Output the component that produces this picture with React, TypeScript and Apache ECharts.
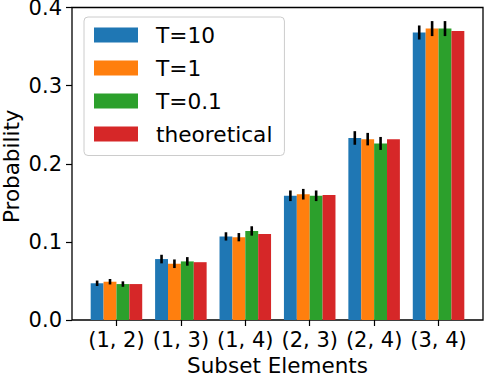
import React, { useEffect, useRef } from "react";
import * as echarts from "echarts";

const categories = ["(1, 2)", "(1, 3)", "(1, 4)", "(2, 3)", "(2, 4)", "(3, 4)"];
const seriesNames = ["T=10", "T=1", "T=0.1", "theoretical"];
const colors = ["#1f77b4", "#ff7f0e", "#2ca02c", "#d62728"];
const valuesT10 = [0.047, 0.078, 0.107, 0.159, 0.233, 0.368];
const valuesT1 = [0.049, 0.072, 0.106, 0.161, 0.2315, 0.373];
const valuesT01 = [0.046, 0.075, 0.114, 0.159, 0.226, 0.373];
const valuesTheo = [0.046, 0.074, 0.11, 0.16, 0.2315, 0.37];
const errT10 = [0.0035, 0.0055, 0.0053, 0.0068, 0.0087, 0.009];
const errT1 = [0.0035, 0.0055, 0.0053, 0.0068, 0.008, 0.0096];
const errT01 = [0.0035, 0.0055, 0.006, 0.0068, 0.0083, 0.0096];
const yTicks = [0, 0.1, 0.2, 0.3, 0.4];

const FONT = "DejaVu Sans";

export default function App() {
  const ref = useRef<HTMLDivElement>(null);
  useEffect(() => {
    document.body.style.margin = "0";
    const chart = echarts.init(ref.current!, null, { renderer: "svg" });
    const allValues = [valuesT10, valuesT1, valuesT01, valuesTheo];
    const allErr = [errT10, errT1, errT01];
    const errData: number[][] = [];
    allErr.forEach((errs, s) => {
      errs.forEach((e, i) => {
        const v = allValues[s][i];
        errData.push([i, v - e, v + e, s]);
      });
    });
    const catIdx = categories.map((_, i) => i);
    chart.setOption({
      animation: false,
      grid: {
        left: 72,
        right: 3,
        top: 7.5,
        bottom: 56,
        outerBoundsMode: "none",
        containLabel: false,
        show: true,
        borderColor: "#000",
        borderWidth: 1.3,
      },
      legend: {
        data: seriesNames,
        orient: "vertical",
        left: 84,
        top: 17,
        padding: [7, 12, 10.5, 10],
        itemWidth: 44,
        itemHeight: 15,
        itemGap: 11,
        icon: "rect",
        borderColor: "#cccccc",
        borderWidth: 1,
        borderRadius: 4,
        backgroundColor: "rgba(255,255,255,0.8)",
        textStyle: { fontFamily: FONT, fontSize: 21.7, color: "#000", padding: [0, 0, 0, 13] },
      },
      xAxis: {
        type: "value",
        min: -0.69,
        max: 5.69,
        axisLine: { show: false, onZero: false },
        splitLine: { show: false },
        axisTick: { show: true, customValues: catIdx, length: 6, lineStyle: { color: "#000", width: 1.2 } },
        axisLabel: {
          customValues: catIdx,
          fontFamily: FONT,
          fontSize: 21,
          color: "#000",
          margin: 9,
          formatter: (v: number) => categories[Math.round(v)] ?? "",
        },
        name: "Subset Elements",
        nameLocation: "middle",
        nameGap: 38.5,
        nameMoveOverlap: false,
        nameTextStyle: { fontFamily: FONT, fontSize: 21.5, color: "#000", lineHeight: 14 },
      },
      yAxis: {
        type: "value",
        min: 0,
        max: 0.4,
        interval: 0.1,
        axisLine: { show: false, onZero: false },
        splitLine: { show: false },
        axisTick: { show: true, length: 6, lineStyle: { color: "#000", width: 1.2 } },
        axisLabel: {
          fontFamily: FONT,
          fontSize: 21,
          color: "#000",
          margin: 10,
          lineHeight: 10,
          padding: [4, 0, 0, 0],
          formatter: (v: number) => {
            const t = yTicks.find((x) => Math.abs(x - v) < 1e-9);
            return (t !== undefined ? t : v).toFixed(1);
          },
        },
        name: "Probability",
        nameLocation: "middle",
        nameGap: 53,
        nameMoveOverlap: false,
        nameTextStyle: { fontFamily: FONT, fontSize: 21.5, color: "#000", lineHeight: 16, padding: [0, 5, 0, 0] },
      },
      series: [
        ...seriesNames.map((name, s) => ({
          name,
          type: "bar",
          data: allValues[s].map((v, i) => [i, v]),
          itemStyle: { color: colors[s] },
          barGap: "0%",
          barCategoryGap: "20%",
        })),
        {
          type: "custom",
          name: "errors",
          data: errData,
          encode: { x: 0, y: [1, 2] },
          z: 10,
          renderItem: (params: any, api: any) => {
            const idx = api.value(0);
            const lo = api.value(1);
            const hi = api.value(2);
            const s = api.value(3);
            const unit = api.size([1, 0])[0];
            const off = (s - 1.5) * unit * 0.2;
            const p1 = api.coord([idx, lo]);
            const p2 = api.coord([idx, hi]);
            return {
              type: "line",
              shape: { x1: p1[0] + off, y1: p1[1], x2: p2[0] + off, y2: p2[1] },
              style: { stroke: "#000", lineWidth: 2.6 },
            };
          },
        },
      ],
    });
    return () => chart.dispose();
  }, []);
  return <div ref={ref} style={{ width: 486, height: 376 }} />;
}
